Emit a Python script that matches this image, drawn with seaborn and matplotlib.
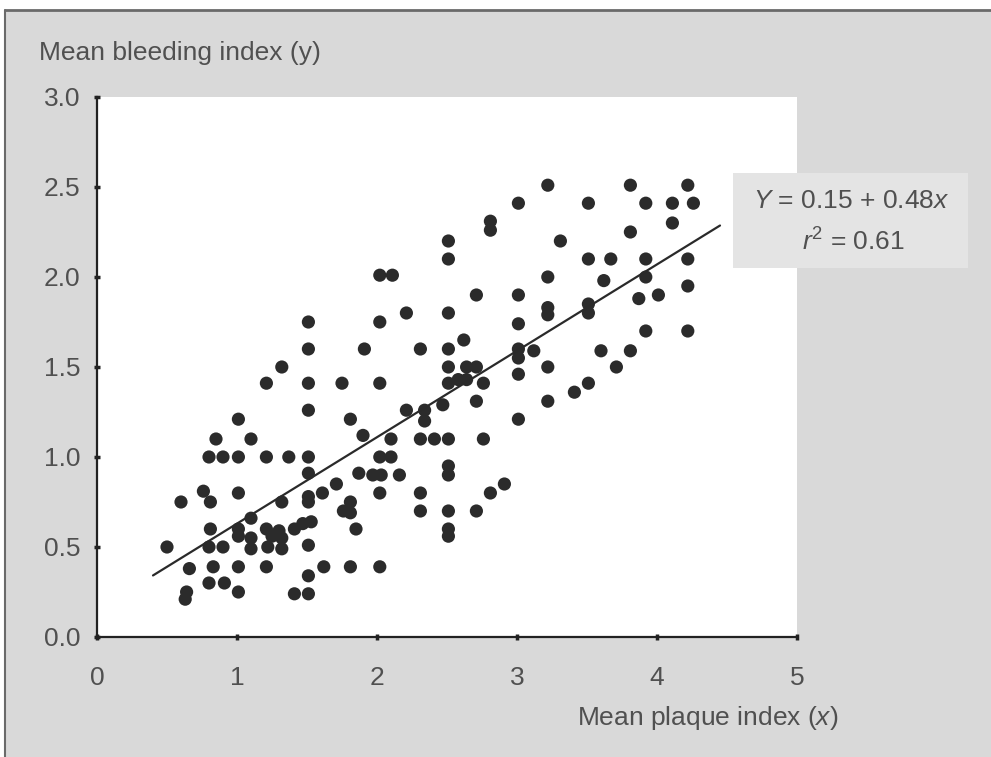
import matplotlib
matplotlib.use("Agg")
import matplotlib.pyplot as plt
from matplotlib.patches import Rectangle
from matplotlib.lines import Line2D
import numpy as np
import pandas as pd
import seaborn as sns

# Mean plaque index (x) and mean bleeding index (y) per subject
plaque = [
    0.50, 0.60, 0.63, 0.64, 0.66, 0.76, 0.81, 0.80, 0.81, 0.80, 0.80, 0.83, 0.85,
    0.90, 0.90, 0.91, 1.01, 1.01, 1.01, 1.01, 1.01, 1.01, 1.01, 1.10, 1.10, 1.10,
    1.10, 1.21, 1.21, 1.21, 1.22, 1.21, 1.25, 1.30, 1.32, 1.32, 1.32, 1.37, 1.32,
    1.41, 1.41, 1.47, 1.51, 1.51, 1.51, 1.51, 1.51, 1.51, 1.51, 1.51, 1.53, 1.51,
    1.51, 1.51, 1.61, 1.62, 1.71, 1.75, 1.76, 1.81, 1.81, 1.81, 1.81, 1.85, 1.87,
    1.90, 1.91, 1.97,
    2.02, 2.11, 2.02, 2.02, 2.02, 2.10, 2.10, 2.03, 2.16, 2.02, 2.02, 2.21, 2.21,
    2.31, 2.34, 2.34, 2.31, 2.41, 2.31, 2.31, 2.47, 2.51, 2.51, 2.51, 2.51, 2.51,
    2.51, 2.51, 2.51, 2.51, 2.51, 2.51, 2.51, 2.58, 2.62, 2.64, 2.64, 2.71, 2.71,
    2.71, 2.71, 2.76, 2.76, 2.81, 2.81, 2.81, 2.91,
    3.01, 3.01, 3.01, 3.01, 3.01, 3.01, 3.01, 3.12, 3.22, 3.22, 3.22, 3.22, 3.22,
    3.22, 3.31, 3.41, 3.51, 3.51, 3.51, 3.51, 3.51, 3.60, 3.62, 3.67, 3.71, 3.81,
    3.81, 3.81, 3.87, 3.92, 3.92, 3.92, 3.92, 4.01, 4.11, 4.11, 4.22, 4.22, 4.22,
    4.22, 4.26,
]
bleeding = [
    0.50, 0.75, 0.21, 0.25, 0.38, 0.81, 0.75, 1.00, 0.60, 0.50, 0.30, 0.39, 1.10,
    1.00, 0.50, 0.30, 1.21, 1.00, 0.80, 0.60, 0.56, 0.39, 0.25, 1.10, 0.66, 0.55,
    0.49, 1.41, 1.00, 0.60, 0.50, 0.39, 0.56, 0.59, 0.55, 0.49, 1.50, 1.00, 0.75,
    0.60, 0.24, 0.63, 1.75, 1.60, 1.41, 1.26, 1.00, 0.91, 0.78, 0.75, 0.64, 0.51,
    0.34, 0.24, 0.80, 0.39, 0.85, 1.41, 0.70, 0.75, 0.69, 1.21, 0.39, 0.60, 0.91,
    1.12, 1.60, 0.90,
    2.01, 2.01, 1.75, 1.41, 1.00, 1.00, 1.10, 0.90, 0.90, 0.80, 0.39, 1.80, 1.26,
    1.60, 1.26, 1.20, 1.10, 1.10, 0.80, 0.70, 1.29, 2.20, 2.10, 1.80, 1.60, 1.50,
    1.41, 1.10, 0.95, 0.90, 0.70, 0.60, 0.56, 1.43, 1.65, 1.50, 1.43, 1.50, 1.90,
    1.31, 0.70, 1.41, 1.10, 2.31, 2.26, 0.80, 0.85,
    2.41, 1.90, 1.74, 1.60, 1.55, 1.46, 1.21, 1.59, 2.51, 2.00, 1.83, 1.79, 1.50,
    1.31, 2.20, 1.36, 2.41, 2.10, 1.85, 1.80, 1.41, 1.59, 1.98, 2.10, 1.50, 2.51,
    2.25, 1.59, 1.88, 2.41, 2.10, 2.00, 1.70, 1.90, 2.41, 2.30, 2.51, 2.10, 1.95,
    1.70, 2.41,
]

# Fitted regression: Y = 0.15 + 0.48x, r^2 = 0.61
intercept = 0.15
slope = 0.48
r_squared = 0.61
fit_range = [0.40, 4.45]

x_ticks = [0, 1, 2, 3, 4, 5]
y_ticks = [0.0, 0.5, 1.0, 1.5, 2.0, 2.5, 3.0]
y_tick_labels = ["0.0", "0.5", "1.0", "1.5", "2.0", "2.5", "3.0"]

df = pd.DataFrame({"plaque": plaque, "bleeding": bleeding})

sns.set_theme(style="white")
plt.rcParams["font.family"] = ["Liberation Sans", "DejaVu Sans"]
plt.rcParams["mathtext.fontset"] = "custom"
plt.rcParams["mathtext.rm"] = "Liberation Sans"
plt.rcParams["mathtext.it"] = "Liberation Sans:italic"

W, H = 991, 757
text_col = "#505050"
fs = 19

fig = plt.figure(figsize=(W / 100, H / 100), dpi=100, facecolor="white")

# grey panel with a dark frame on top and left
fig.patches.append(Rectangle((5 / W, 0), 1 - 5 / W, 1 - 10 / H, transform=fig.transFigure,
                             facecolor="#d9d9d9", edgecolor="none", zorder=-5))
fig.lines.append(Line2D([5 / W, 1], [1 - 10 / H, 1 - 10 / H], transform=fig.transFigure,
                        color="#6a6a6a", lw=2.0, zorder=-4))
fig.lines.append(Line2D([5 / W, 5 / W], [0, 1 - 10 / H], transform=fig.transFigure,
                        color="#6a6a6a", lw=1.5, zorder=-4))

ax = fig.add_axes([97 / W, 1 - 637 / H, 700 / W, 540 / H])
ax.set_facecolor("white")

sns.scatterplot(data=df, x="plaque", y="bleeding", ax=ax, s=90, color="#2b2b2b",
                edgecolor="none", linewidth=0, zorder=3)

xf = np.array(fit_range)
ax.plot(xf, intercept + slope * xf, color="#2a2a2a", lw=1.6, zorder=4)

ax.set_xlim(0, 5)
ax.set_ylim(0, 3)
ax.set_xticks(x_ticks)
ax.set_xticklabels([str(t) for t in x_ticks])
ax.set_yticks(y_ticks)
ax.set_yticklabels(y_tick_labels)
ax.set_xlabel("")
ax.set_ylabel("")

for side in ["top", "right"]:
    ax.spines[side].set_visible(False)
for side in ["left", "bottom"]:
    ax.spines[side].set_color("#222222")
    ax.spines[side].set_linewidth(1.6)
    ax.spines[side].set_zorder(5)

ax.tick_params(axis="both", direction="inout", length=4, width=2.5, color="#222222",
               labelsize=fs, labelcolor=text_col, left=True, bottom=True)
ax.tick_params(axis="x", pad=19)
ax.tick_params(axis="y", pad=10)

fig.text(39 / W, 1 - 60 / H, "Mean bleeding index (y)", ha="left", va="baseline",
         fontsize=fs, color=text_col)
fig.text(838 / W, 1 - 725 / H, "Mean plaque index ($\\mathit{x}$)", ha="right",
         va="baseline", fontsize=fs, color=text_col)

# equation box
fig.patches.append(Rectangle((733 / W, 1 - 268 / H), 235 / W, 95 / H,
                             transform=fig.transFigure, facecolor="#e4e4e4",
                             edgecolor="none", zorder=6))
fig.text(851 / W, 1 - 208 / H,
         f"$\\mathit{{Y}}$ = {intercept:.2f} + {slope:.2f}$\\mathit{{x}}$",
         ha="center", va="baseline", fontsize=fs, color=text_col, zorder=7)
fig.text(853 / W, 1 - 251 / H, f"$\\mathit{{r}}^{{2}}$ = {r_squared:.2f}",
         ha="center", va="baseline", fontsize=fs, color=text_col, zorder=7)

fig.savefig("out.png", dpi=100, facecolor=fig.get_facecolor())
